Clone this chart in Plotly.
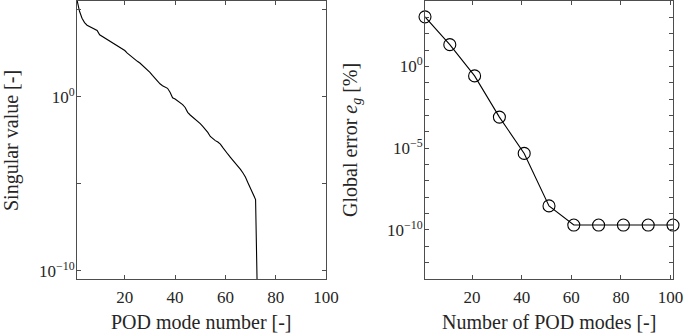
import plotly.graph_objects as go

# ---- data ----
modes = list(range(1, 101))
# log10 of singular values for POD modes 1..100
sv_log10 = [
    5.55, 4.90, 4.50, 4.25, 4.10, 4.02, 3.95, 3.88, 3.80, 3.55,
    3.46, 3.38, 3.30, 3.22, 3.12, 3.04, 2.95, 2.85, 2.75, 2.65,
    2.50, 2.38, 2.22, 2.12, 2.03, 1.93, 1.80, 1.66, 1.52, 1.40,
    1.22, 1.04, 0.88, 0.74, 0.63, 0.54, 0.48, 0.25, -0.06, -0.13,
    -0.22, -0.31, -0.45, -0.62, -0.90, -1.05, -1.17, -1.28, -1.40, -1.55,
    -1.70, -1.87, -2.05, -2.28, -2.42, -2.52, -2.60, -2.72, -2.92, -3.15,
    -3.30, -3.48, -3.65, -3.80, -3.98, -4.17, -4.38, -4.62, -4.95, -5.25,
    -5.60, -5.90, -13.8, -14.2, -14.3, -14.4, -14.3, -14.5, -14.4, -14.6,
    -14.5, -14.6, -14.7, -14.5, -14.6, -14.7, -14.8, -14.6, -14.7, -14.8,
    -14.7, -14.8, -14.9, -14.8, -14.9, -15.0, -14.9, -15.0, -15.1, -15.0,
]
sv = [10 ** v for v in sv_log10]

n_modes = [1, 11, 21, 31, 41, 51, 61, 71, 81, 91, 101]
err_log10 = [3.03, 1.33, -0.58, -3.10, -5.32, -8.53, -9.70, -9.70, -9.70, -9.70, -9.70]
err = [10 ** v for v in err_log10]

x_ticks = [20, 40, 60, 80, 100]
x_ticktext = ["20", "40", "60", "80", "100"]
left_yticks = [1e5, 1, 1e-5, 1e-10]
left_ytext = ["", "10<sup>0</sup>", "", "10<sup>\u221210</sup>"]
right_exp = list(range(3, -13, -1))
right_yticks = [10.0 ** k for k in right_exp]
right_labels = {0: "10<sup>0</sup>", -5: "10<sup>\u22125</sup>", -10: "10<sup>\u221210</sup>"}
right_ytext = [right_labels.get(k, "") for k in right_exp]

W, H = 685, 333
FONT = "Liberation Serif"
AX = "#4d4d4d"
TXT = "#262626"

fig = go.Figure()
fig.add_trace(go.Scatter(x=modes, y=sv, mode="lines",
                         line=dict(color="black", width=1.1),
                         xaxis="x", yaxis="y", showlegend=False))
fig.add_trace(go.Scatter(x=n_modes, y=err, mode="lines+markers",
                         line=dict(color="black", width=1.1),
                         marker=dict(symbol="circle-open", size=12, color="black",
                                     line=dict(width=1.1, color="black")),
                         cliponaxis=False,
                         xaxis="x2", yaxis="y2", showlegend=False))

top = 1 - 1 / H
bottom = 1 - 279 / H

common_x = dict(showline=True, mirror="ticks", linecolor=AX, linewidth=1,
                ticks="inside", ticklen=4, tickcolor=AX, tickwidth=1,
                showgrid=False, zeroline=False, automargin=False,
                tickvals=x_ticks, ticktext=x_ticktext, ticklabelstandoff=3,
                tickfont=dict(family=FONT, size=17, color=TXT))
common_y = dict(type="log", showline=True, mirror="ticks", linecolor=AX, linewidth=1,
                ticks="inside", ticklen=4, tickcolor=AX, tickwidth=1,
                showgrid=False, zeroline=False, automargin=False,
                ticklabelstandoff=-2,
                tickfont=dict(family=FONT, size=17, color=TXT))

ann_font = dict(family=FONT, size=20, color=TXT)
fig.update_layout(
    width=W, height=H,
    margin=dict(l=0, r=0, t=0, b=0, autoexpand=False),
    paper_bgcolor="white", plot_bgcolor="white",
    xaxis=dict(domain=[77 / W, 326 / W], range=[1, 100], anchor="y", **common_x),
    yaxis=dict(domain=[bottom, top], range=[-10.46, 5.49], anchor="x",
               tickvals=left_yticks, ticktext=left_ytext, **common_y),
    xaxis2=dict(domain=[425 / W, 673 / W], range=[1, 101], anchor="y2", **common_x),
    yaxis2=dict(domain=[bottom, top], range=[-13, 4], anchor="x2",
                tickvals=right_yticks, ticktext=right_ytext, **common_y),
    annotations=[
        dict(text="POD mode number [-]", x=201 / W, y=1 - 322 / H, xref="paper", yref="paper",
             xanchor="center", yanchor="middle", showarrow=False, font=ann_font),
        dict(text="Number of POD modes [-]", x=549 / W, y=1 - 322 / H, xref="paper", yref="paper",
             xanchor="center", yanchor="middle", showarrow=False, font=ann_font),
        dict(text="Singular value [-]", x=11 / W, y=1 - 141 / H, xref="paper", yref="paper",
             xanchor="center", yanchor="middle",
             textangle=-90, showarrow=False, font=ann_font),
        dict(text="Global error <i>e<sub>g</sub></i> [%]", x=351 / W, y=1 - 140 / H,
             xref="paper", yref="paper", xanchor="center", yanchor="middle",
             textangle=-90, showarrow=False, font=ann_font),
    ],
)

fig.write_html("out.html", config={"displayModeBar": False},
               post_script="document.body.style.margin='0';document.body.style.overflow='hidden';")
